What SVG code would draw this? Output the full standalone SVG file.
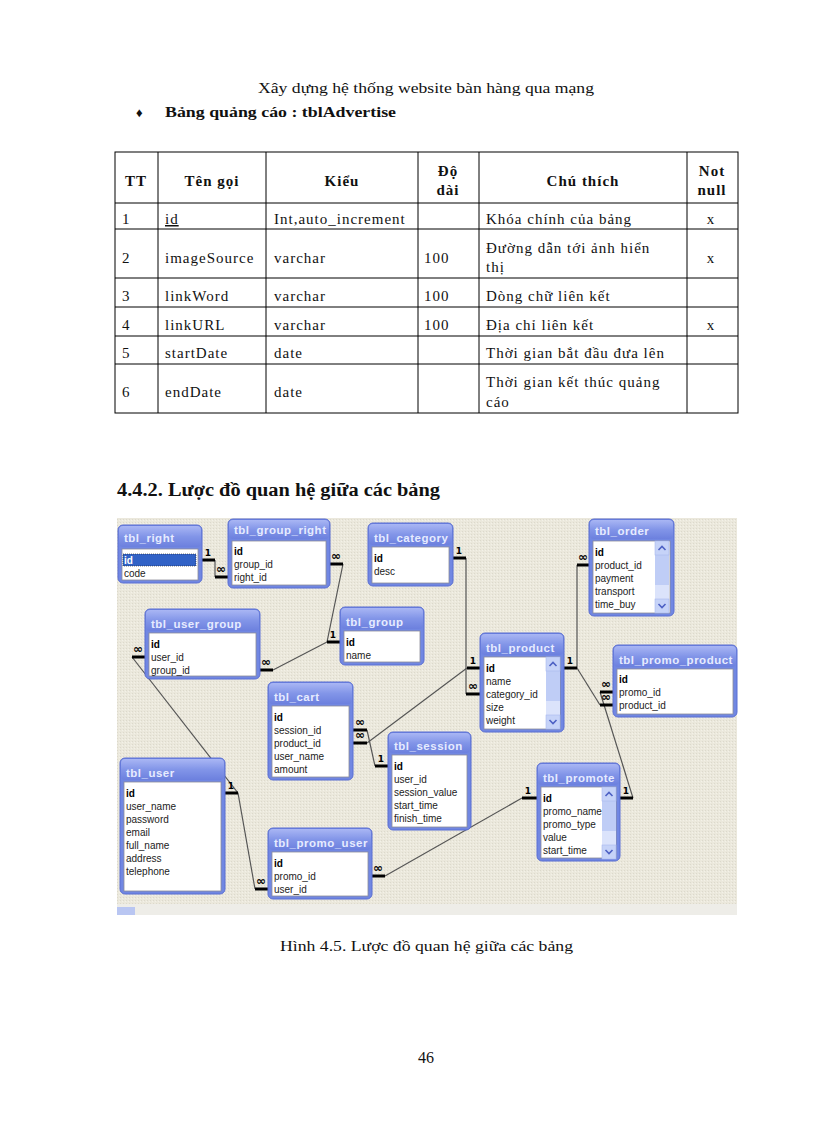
<svg xmlns="http://www.w3.org/2000/svg" xmlns:xlink="http://www.w3.org/1999/xlink" width="816" height="1123" viewBox="0 0 816 1123">
<style>
.pg{font-family:"Liberation Serif","Times New Roman",serif;font-size:15px;fill:#111;letter-spacing:1px}
.pgb{font-family:"Liberation Serif","Times New Roman",serif;font-size:15px;font-weight:bold;fill:#111;letter-spacing:1px}
.grid{stroke:#000;stroke-width:1;fill:none}
.frame{fill:#7187e2;stroke:#5b6fd3;stroke-width:1}
.tbar{fill:url(#tg)}
.ttl{font-family:"Liberation Sans",Arial,sans-serif;font-size:11.5px;font-weight:bold;fill:#e6ebff;letter-spacing:0.5px}
.body{fill:#fff;stroke:#8d8d9a;stroke-width:0.8}
.fld{font-family:"Liberation Sans",Arial,sans-serif;font-size:10px;fill:#222}
.pk{font-weight:bold;fill:#000}
.stub{stroke:#000;stroke-width:3;fill:none}
.ln{stroke:#555;stroke-width:1.2;fill:none}
.lbl{font-family:"DejaVu Sans","Liberation Sans",sans-serif;font-size:9px;font-weight:bold;fill:#000;text-anchor:middle}
</style>
<defs>
<linearGradient id="tg" x1="0" y1="0" x2="0" y2="1">
<stop offset="0" stop-color="#a9b6f4"/>
<stop offset="0.5" stop-color="#8295e8"/>
<stop offset="1" stop-color="#6c80de"/>
</linearGradient>
<pattern id="dith" width="3" height="3" patternUnits="userSpaceOnUse">
<rect width="3" height="3" fill="#ebe8dc"/>
<rect width="1" height="1" fill="#dcd9cc"/>
<rect x="2" y="1" width="1" height="1" fill="#f3f1e8"/>
</pattern>
<g id="scrollbar">
<rect x="0" y="0" width="14" height="72" fill="#dbe3fb"/>
<rect x="0" y="14" width="14" height="30" fill="#bfcdf6"/>
<rect x="0" y="0" width="14" height="14" fill="#c6d3f8" stroke="#a8b8ee" stroke-width="0.6"/>
<polyline points="3.5,9 7,5.5 10.5,9" fill="none" stroke="#4d61c4" stroke-width="1.6"/>
<rect x="0" y="58" width="14" height="14" fill="#c6d3f8" stroke="#a8b8ee" stroke-width="0.6"/>
<polyline points="3.5,63 7,66.5 10.5,63" fill="none" stroke="#4d61c4" stroke-width="1.6"/>
</g>
</defs>
<rect width="816" height="1123" fill="#fff"/>

<!-- page header -->
<text class="pg" x="258" y="93" textLength="336" lengthAdjust="spacingAndGlyphs" style="letter-spacing:0">Xây dựng hệ thống website bàn hàng qua mạng</text>
<text class="pgb" x="136" y="117" style="font-size:13px;letter-spacing:0">♦</text>
<text class="pgb" x="165" y="117" textLength="231" lengthAdjust="spacingAndGlyphs" style="letter-spacing:0">Bảng quảng cáo : tblAdvertise</text>

<!-- table tblAdvertise -->
<g id="advertise-table">
<rect class="grid" x="115" y="152" width="623" height="261"/>
<path class="grid" d="M115,203H738 M115,229H738 M115,278H738 M115,307H738 M115,336H738 M115,364H738 M158,152V413 M266,152V413 M418,152V413 M479,152V413 M687,152V413"/>
<g class="pgb" text-anchor="middle">
<text x="136" y="186">TT</text>
<text x="212" y="186">Tên gọi</text>
<text x="342" y="186">Kiểu</text>
<text x="448" y="176">Độ</text>
<text x="448" y="195">dài</text>
<text x="583" y="186">Chú thích</text>
<text x="712" y="176">Not</text>
<text x="712" y="195">null</text>
</g>
<g class="pg">
<text x="122" y="224">1</text><text x="165" y="224" text-decoration="underline">id</text><text x="274" y="224">Int,auto_increment</text><text x="486" y="224">Khóa chính của bảng</text>
<text x="122" y="263">2</text><text x="165" y="263">imageSource</text><text x="274" y="263">varchar</text><text x="424" y="263">100</text><text x="486" y="253">Đường dẫn tới ảnh hiển</text><text x="486" y="272">thị</text>
<text x="122" y="301">3</text><text x="165" y="301">linkWord</text><text x="274" y="301">varchar</text><text x="424" y="301">100</text><text x="486" y="301">Dòng chữ liên kết</text>
<text x="122" y="330">4</text><text x="165" y="330">linkURL</text><text x="274" y="330">varchar</text><text x="424" y="330">100</text><text x="486" y="330">Địa chỉ liên kết</text>
<text x="122" y="358">5</text><text x="165" y="358">startDate</text><text x="274" y="358">date</text><text x="486" y="358">Thời gian bắt đầu đưa lên</text>
<text x="122" y="397">6</text><text x="165" y="397">endDate</text><text x="274" y="397">date</text><text x="486" y="387">Thời gian kết thúc quảng</text><text x="486" y="407">cáo</text>
</g>
<g class="pg" text-anchor="middle">
<text x="711" y="224">x</text><text x="711" y="263">x</text><text x="711" y="330">x</text>
</g>
</g>

<text class="pgb" x="117" y="496" style="font-size:18px;letter-spacing:0" textLength="323" lengthAdjust="spacingAndGlyphs">4.4.2. Lược đồ quan hệ giữa các bảng</text>

<!-- diagram background -->
<rect x="117" y="518" width="620" height="397" fill="url(#dith)"/>
<rect x="117" y="904" width="620" height="11" fill="#eeede8"/>
<rect x="117" y="907" width="18" height="8" fill="#b9c6f2"/>

<!-- connectors -->
<g id="connectors">
<path class="ln" d="M215,560V577"/>
<path class="ln" d="M343,564L327,642"/>
<path class="ln" d="M273,670L327,642"/>
<path class="ln" d="M132,657L238,793"/>
<path class="ln" d="M238,793L255,889"/>
<path class="ln" d="M466,558V694"/>
<path class="ln" d="M367,743L467,668"/>
<path class="ln" d="M367,730L375,766"/>
<path class="ln" d="M577,668V565"/>
<path class="ln" d="M577,668L600,705"/>
<path class="ln" d="M633,798L600,692"/>
<path class="ln" d="M522,798L385,876"/>
<path class="stub" d="M202,560H215 M215,577H228 M330,564H343 M327,642H340 M260,670H273 M132,657H145 M225,793H238 M255,889H268 M453,558H466 M466,694H480 M353,743H367 M467,668H480 M353,730H367 M375,766H388 M564,668H577 M577,565H589 M600,705H613 M620,798H633 M600,692H613 M522,798H537 M372,876H385"/>
<g class="lbl">
<text x="208" y="556">1</text>
<text x="221" y="573" style="font-size:12px">∞</text>
<text x="336" y="560" style="font-size:12px">∞</text>
<text x="333" y="638">1</text>
<text x="266" y="666" style="font-size:12px">∞</text>
<text x="138" y="653" style="font-size:12px">∞</text>
<text x="231" y="789">1</text>
<text x="261" y="885" style="font-size:12px">∞</text>
<text x="459" y="554">1</text>
<text x="473" y="690" style="font-size:12px">∞</text>
<text x="360" y="739" style="font-size:12px">∞</text>
<text x="473" y="664">1</text>
<text x="360" y="726" style="font-size:12px">∞</text>
<text x="381" y="762">1</text>
<text x="570" y="664">1</text>
<text x="583" y="561" style="font-size:12px">∞</text>
<text x="606" y="701" style="font-size:12px">∞</text>
<text x="626" y="794">1</text>
<text x="606" y="688" style="font-size:12px">∞</text>
<text x="528" y="794">1</text>
<text x="378" y="872" style="font-size:12px">∞</text>
</g>
</g>

<!-- tables -->
<g id="tbl_right" transform="translate(118,525)">
<rect class="frame" width="84" height="58" rx="5"/>
<rect class="tbar" x="1" y="1" width="82" height="21" rx="4"/>
<text class="ttl" x="6" y="17">tbl_right</text>
<rect class="body" x="4" y="24" width="76" height="31"/>
<rect x="5" y="29" width="73" height="12" fill="#3162c6" stroke="#222" stroke-width="0.6" stroke-dasharray="1,1"/>
<text class="fld pk" x="6" y="39" style="fill:#fff">id</text>
<text class="fld" x="6" y="52">code</text>
</g>

<g id="tbl_group_right" transform="translate(228,519)">
<rect class="frame" width="102" height="69" rx="5"/>
<rect class="tbar" x="1" y="1" width="100" height="19" rx="4"/>
<text class="ttl" x="6" y="15">tbl_group_right</text>
<rect class="body" x="4" y="22" width="94" height="44"/>
<text class="fld pk" x="6" y="36">id</text>
<text class="fld" x="6" y="49">group_id</text>
<text class="fld" x="6" y="62">right_id</text>
</g>

<g id="tbl_category" transform="translate(368,523)">
<rect class="frame" width="85" height="63" rx="5"/>
<rect class="tbar" x="1" y="1" width="83" height="21" rx="4"/>
<text class="ttl" x="6" y="19">tbl_category</text>
<rect class="body" x="4" y="24" width="77" height="36"/>
<text class="fld pk" x="6" y="39">id</text>
<text class="fld" x="6" y="52">desc</text>
</g>

<g id="tbl_order" transform="translate(589,519)">
<rect class="frame" width="85" height="97" rx="5"/>
<rect class="tbar" x="1" y="1" width="83" height="19" rx="4"/>
<text class="ttl" x="6" y="16">tbl_order</text>
<rect class="body" x="4" y="22" width="77" height="72"/>
<text class="fld pk" x="6" y="37">id</text>
<text class="fld" x="6" y="50">product_id</text>
<text class="fld" x="6" y="63">payment</text>
<text class="fld" x="6" y="76">transport</text>
<text class="fld" x="6" y="89">time_buy</text>
<use xlink:href="#scrollbar" x="66" y="22"/>
</g>

<g id="tbl_user_group" transform="translate(145,609)">
<rect class="frame" width="115" height="70" rx="5"/>
<rect class="tbar" x="1" y="1" width="113" height="21" rx="4"/>
<text class="ttl" x="6" y="19">tbl_user_group</text>
<rect class="body" x="4" y="24" width="107" height="43"/>
<text class="fld pk" x="6" y="39">id</text>
<text class="fld" x="6" y="52">user_id</text>
<text class="fld" x="6" y="65">group_id</text>
</g>

<g id="tbl_group" transform="translate(340,607)">
<rect class="frame" width="84" height="58" rx="5"/>
<rect class="tbar" x="1" y="1" width="82" height="21" rx="4"/>
<text class="ttl" x="6" y="19">tbl_group</text>
<rect class="body" x="4" y="24" width="76" height="31"/>
<text class="fld pk" x="6" y="39">id</text>
<text class="fld" x="6" y="52">name</text>
</g>

<g id="tbl_product" transform="translate(480,633)">
<rect class="frame" width="84" height="99" rx="5"/>
<rect class="tbar" x="1" y="1" width="82" height="21" rx="4"/>
<text class="ttl" x="6" y="19">tbl_product</text>
<rect class="body" x="4" y="24" width="76" height="72"/>
<text class="fld pk" x="6" y="39">id</text>
<text class="fld" x="6" y="52">name</text>
<text class="fld" x="6" y="65">category_id</text>
<text class="fld" x="6" y="78">size</text>
<text class="fld" x="6" y="91">weight</text>
<use xlink:href="#scrollbar" x="66" y="24"/>
</g>

<g id="tbl_promo_product" transform="translate(613,645)">
<rect class="frame" width="124" height="72" rx="5"/>
<rect class="tbar" x="1" y="1" width="122" height="21" rx="4"/>
<text class="ttl" x="6" y="19">tbl_promo_product</text>
<rect class="body" x="4" y="24" width="116" height="45"/>
<text class="fld pk" x="6" y="38">id</text>
<text class="fld" x="6" y="51">promo_id</text>
<text class="fld" x="6" y="64">product_id</text>
</g>

<g id="tbl_cart" transform="translate(268,682)">
<rect class="frame" width="85" height="98" rx="5"/>
<rect class="tbar" x="1" y="1" width="83" height="21" rx="4"/>
<text class="ttl" x="6" y="19">tbl_cart</text>
<rect class="body" x="4" y="24" width="77" height="71"/>
<text class="fld pk" x="6" y="39">id</text>
<text class="fld" x="6" y="52">session_id</text>
<text class="fld" x="6" y="65">product_id</text>
<text class="fld" x="6" y="78">user_name</text>
<text class="fld" x="6" y="91">amount</text>
</g>

<g id="tbl_session" transform="translate(388,732)">
<rect class="frame" width="83" height="98" rx="5"/>
<rect class="tbar" x="1" y="1" width="81" height="20" rx="4"/>
<text class="ttl" x="6" y="18">tbl_session</text>
<rect class="body" x="4" y="23" width="75" height="72"/>
<text class="fld pk" x="6" y="38">id</text>
<text class="fld" x="6" y="51">user_id</text>
<text class="fld" x="6" y="64">session_value</text>
<text class="fld" x="6" y="77">start_time</text>
<text class="fld" x="6" y="90">finish_time</text>
</g>

<g id="tbl_user" transform="translate(120,758)">
<rect class="frame" width="105" height="136" rx="5"/>
<rect class="tbar" x="1" y="1" width="103" height="21" rx="4"/>
<text class="ttl" x="6" y="19">tbl_user</text>
<rect class="body" x="4" y="24" width="97" height="109"/>
<text class="fld pk" x="6" y="39">id</text>
<text class="fld" x="6" y="52">user_name</text>
<text class="fld" x="6" y="65">password</text>
<text class="fld" x="6" y="78">email</text>
<text class="fld" x="6" y="91">full_name</text>
<text class="fld" x="6" y="104">address</text>
<text class="fld" x="6" y="117">telephone</text>
</g>

<g id="tbl_promo_user" transform="translate(268,828)">
<rect class="frame" width="104" height="71" rx="5"/>
<rect class="tbar" x="1" y="1" width="102" height="21" rx="4"/>
<text class="ttl" x="6" y="19">tbl_promo_user</text>
<rect class="body" x="4" y="24" width="96" height="44"/>
<text class="fld pk" x="6" y="39">id</text>
<text class="fld" x="6" y="52">promo_id</text>
<text class="fld" x="6" y="65">user_id</text>
</g>

<g id="tbl_promote" transform="translate(537,763)">
<rect class="frame" width="83" height="98" rx="5"/>
<rect class="tbar" x="1" y="1" width="81" height="21" rx="4"/>
<text class="ttl" x="6" y="19">tbl_promote</text>
<rect class="body" x="4" y="24" width="75" height="71"/>
<text class="fld pk" x="6" y="39">id</text>
<text class="fld" x="6" y="52">promo_name</text>
<text class="fld" x="6" y="65">promo_type</text>
<text class="fld" x="6" y="78">value</text>
<text class="fld" x="6" y="91">start_time</text>
<use xlink:href="#scrollbar" x="65" y="24"/>
</g>

<text class="pg" x="280" y="951" style="letter-spacing:0" textLength="293" lengthAdjust="spacingAndGlyphs">Hình 4.5. Lược đồ quan hệ giữa các bảng</text>
<text class="pg" x="426" y="1063" text-anchor="middle" style="font-size:16px;letter-spacing:0">46</text>
</svg>
